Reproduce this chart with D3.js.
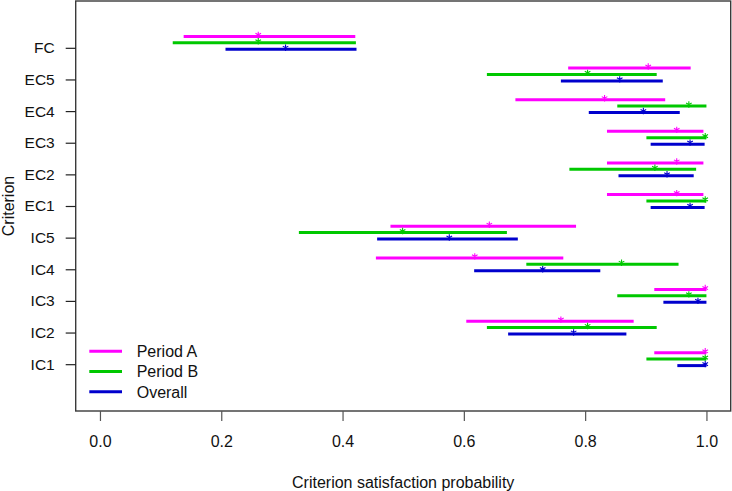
<!DOCTYPE html>
<html><head><meta charset="utf-8">
<script src="https://cdn.jsdelivr.net/npm/d3@7"></script>
<style>body{margin:0;background:#fff}svg{display:block}text{font-family:"Liberation Sans",Arial,Helvetica,sans-serif}</style>
</head><body><svg id="c" width="732" height="491"></svg>
<script>
const categories = ["IC1","IC2","IC3","IC4","IC5","EC1","EC2","EC3","EC4","EC5","FC"];
const xTicks = [0, 0.2, 0.4, 0.6, 0.8, 1.0];
const seriesNames = ["Period A","Period B","Overall"];
// Period A
const aLow  = [0.914,0.604,0.914,0.455,0.479,0.836,0.836,0.836,0.685,0.772,0.138];
const aHigh = [1.000,0.880,1.000,0.764,0.785,0.995,0.995,0.995,0.932,0.974,0.421];
const aEst  = [0.998,0.760,0.998,0.618,0.642,0.951,0.951,0.951,0.832,0.904,0.261];
// Period B
const bLow  = [0.901,0.638,0.853,0.703,0.328,0.901,0.774,0.901,0.853,0.638,0.120];
const bHigh = [1.000,0.918,1.000,0.954,0.671,1.000,0.983,1.000,1.000,0.918,0.422];
const bEst  = [0.998,0.804,0.971,0.860,0.499,0.998,0.915,0.998,0.971,0.804,0.261];
// Overall
const oLow  = [0.952,0.673,0.929,0.617,0.457,0.908,0.855,0.908,0.806,0.760,0.207];
const oHigh = [1.000,0.868,1.000,0.825,0.689,0.997,0.979,0.997,0.956,0.928,0.423];
const oEst  = [0.998,0.781,0.986,0.730,0.576,0.973,0.935,0.973,0.896,0.857,0.306];

const colors = ["#ff00ff","#00c800","#0000cd"];
const offsets = [0.36, 0.16, -0.045];
const series = [
  {lo:aLow, hi:aHigh, est:aEst},
  {lo:bLow, hi:bHigh, est:bEst},
  {lo:oLow, hi:oHigh, est:oEst}
];

const svg = d3.select("#c");
const L = 75.7, R = 730.7, T = 1, B = 411;
const x = d3.scaleLinear().domain([-0.04, 1.04]).range([L, R]);
const y = d3.scaleLinear().domain([-0.48, 12.48]).range([B, T]);

// intervals
series.forEach((s, si) => {
  const g = svg.append("g");
  categories.forEach((c, i) => {
    const yy = y(i + 1 + offsets[si]);
    g.append("line").attr("x1", x(s.lo[i])).attr("x2", x(s.hi[i]))
      .attr("y1", yy).attr("y2", yy)
      .attr("stroke", colors[si]).attr("stroke-width", 3);
    const cx = x(s.est[i]), cy = yy - 1.5, r = 3.2;
    const p = d3.path();
    p.moveTo(cx, cy - r); p.lineTo(cx, cy + r);
    p.moveTo(cx - r*0.87, cy - r*0.5); p.lineTo(cx + r*0.87, cy + r*0.5);
    p.moveTo(cx - r*0.87, cy + r*0.5); p.lineTo(cx + r*0.87, cy - r*0.5);
    g.append("path").attr("d", p.toString()).attr("stroke", colors[si])
      .attr("stroke-width", 1.1).attr("fill", "none");
  });
});

// box
svg.append("rect").attr("x", L).attr("y", T).attr("width", R - L).attr("height", B - T)
  .attr("fill", "none").attr("stroke", "#3a3a3a").attr("stroke-width", 1.4);

// x axis
const xa = svg.append("g").attr("transform", `translate(0,${B})`)
  .call(d3.axisBottom(x).tickValues(xTicks).tickFormat(d3.format(".1f")).tickSize(10).tickPadding(15));
xa.select(".domain").remove();
xa.selectAll("line").attr("stroke", "#555").attr("stroke-width", 1.2);
xa.selectAll("text").attr("font-size", 16).attr("fill", "#111")
  .style("font-family", '"Liberation Sans", Arial, sans-serif');

// y axis
const ya = svg.append("g").attr("transform", `translate(${L},0)`)
  .call(d3.axisLeft(y).tickValues(d3.range(1, categories.length + 1))
    .tickFormat(i => categories[i - 1]).tickSize(10).tickPadding(11));
ya.select(".domain").remove();
ya.selectAll("line").attr("stroke", "#222").attr("stroke-width", 1.2);
ya.selectAll("text").attr("font-size", 15.5).attr("fill", "#111")
  .style("font-family", '"Liberation Sans", Arial, sans-serif');

// axis titles
svg.append("text").attr("x", (L + R) / 2).attr("y", 488).attr("text-anchor", "middle")
  .attr("font-size", 16).attr("fill", "#111").text("Criterion satisfaction probability");
svg.append("text").attr("transform", `translate(14,${(T + B) / 2}) rotate(-90)`)
  .attr("text-anchor", "middle").attr("font-size", 16).attr("fill", "#111").text("Criterion");

// legend
const lg = svg.append("g");
seriesNames.forEach((n, i) => {
  const ly = 351.3 + i * 20.2;
  lg.append("line").attr("x1", 89.3).attr("x2", 122).attr("y1", ly).attr("y2", ly)
    .attr("stroke", colors[i]).attr("stroke-width", 3);
  lg.append("text").attr("x", 136.7).attr("y", ly + 5.8).attr("font-size", 16)
    .attr("fill", "#111").text(n);
});
</script></body></html>
